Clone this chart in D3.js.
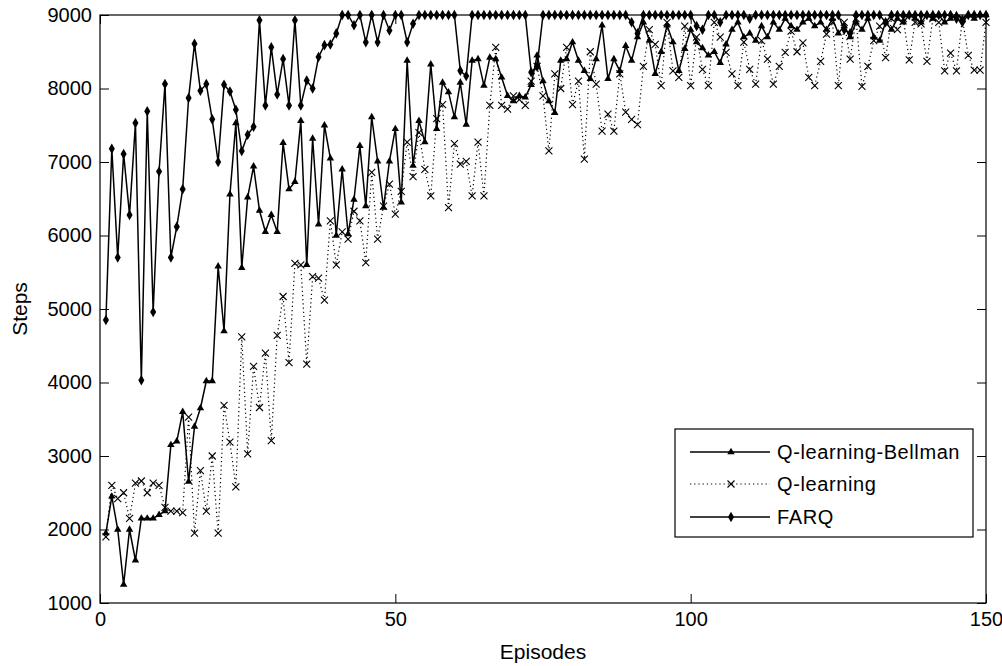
<!DOCTYPE html>
<html>
<head>
<meta charset="utf-8">
<script src="https://cdn.jsdelivr.net/npm/d3@7"></script>
<style>
  html, body { margin: 0; padding: 0; background: #fff; }
  svg { display: block; }
  text { font-family: "Liberation Sans", Arial, sans-serif; fill: #000; }
</style>
</head>
<body>
<svg id="chart" width="1002" height="666"></svg>
<script>
// ---------------- data ----------------
const seriesNames = ["Q-learning-Bellman", "Q-learning", "FARQ"];
const xTicks = [0, 50, 100, 150];
const yTicks = [1000, 2000, 3000, 4000, 5000, 6000, 7000, 8000, 9000];

// episodes 1..150
const bellman = [
  1950,2450,2000,1250,2000,1580,2150,2150,2150,2200,
  2250,3150,3200,3600,2650,3400,3650,4020,4020,5580,
  4700,6560,7530,5560,6520,6940,6340,6050,6280,6050,
  7260,6630,6730,7560,5600,7320,6150,7500,7050,6000,
  6900,6020,6490,7220,6400,7610,7010,6380,7010,7450,
  6450,8380,6950,7560,7270,8330,7450,8080,7950,7610,
  8080,7510,8380,8400,8040,8420,8400,8150,7900,7830,
  7900,7880,8050,8450,8100,7830,7670,8380,8400,8630,
  8380,8240,8130,8400,8860,8130,8400,8240,8580,8380,
  8700,8900,8650,8200,8500,8860,8630,8240,8540,8800,
  8630,8550,8450,8500,8350,8600,8800,8900,8700,8750,
  8650,8850,8700,8900,8800,8950,8850,8800,8900,8950,
  8850,8900,8800,8950,8750,8850,8700,8900,8800,8950,
  8700,8650,8900,8800,8950,8900,9000,8950,8900,9000,
  8950,9000,8900,8950,9000,8950,9000,8950,9000,9000
];
const qlearning = [
  1900,2600,2420,2500,2150,2630,2660,2500,2630,2600,
  2300,2250,2250,2230,3530,1950,2800,2250,3000,1950,
  3690,3190,2580,4620,3030,4220,3660,4400,3210,4640,
  5170,4270,5620,5600,4250,5440,5420,5120,6200,5600,
  6050,5950,6330,6200,5630,6860,5950,6400,6700,6290,
  6600,7270,6800,7400,6900,6540,7590,7780,6380,7250,
  6970,7010,6540,7270,6540,7770,8560,7770,7720,7900,
  7850,7770,8100,8300,7900,7150,8200,8000,8560,7780,
  8100,7040,8500,8060,7420,7650,7420,8200,7680,7580,
  7510,8300,8800,8600,8040,8900,8240,8150,8850,8040,
  8700,8260,8040,8900,8700,8490,8200,8040,8630,8260,
  8060,8650,8400,8060,8300,8490,8780,8500,8620,8150,
  8040,8370,8740,8900,8040,8900,8400,8950,8030,8300,
  8650,8850,8420,8950,8800,8950,8390,8900,8880,8370,
  8950,8900,8240,8480,8240,8950,8450,8250,8250,8900
];
const farq = [
  4850,7180,5700,7110,6280,7530,4030,7690,4960,6870,
  8060,5700,6120,6630,7870,8610,7970,8060,7580,7000,
  8050,7960,7710,7150,7370,7480,8930,7770,8560,7920,
  8400,7770,8930,7770,8110,8000,8430,8590,8600,8750,
  9000,9000,8860,9000,8630,9000,8630,9000,8790,9000,
  9000,8630,8880,9000,9000,9000,9000,9000,9000,9000,
  8240,8170,9000,9000,9000,9000,9000,9000,9000,9000,
  9000,9000,8220,8300,9000,9000,9000,9000,9000,9000,
  9000,9000,9000,9000,9000,9000,9000,9000,9000,8900,
  8750,9000,9000,9000,9000,9000,9000,9000,9000,9000,
  8850,8800,9000,9000,8900,9000,9000,9000,9000,8950,
  9000,9000,9000,9000,9000,9000,9000,9000,9000,9000,
  9000,9000,9000,9000,9000,8800,8750,9000,9000,9000,
  9000,9000,8900,9000,9000,9000,9000,9000,9000,9000,
  9000,9000,9000,9000,8950,8900,9000,9000,9000,9000
];

// ---------------- layout ----------------
const svg = d3.select("#chart");
const L = 100, R = 986, T = 15, B = 603;
const x = d3.scaleLinear().domain([0, 150]).range([L, R]);
const y = d3.scaleLinear().domain([1000, 9000]).range([B, T]);

svg.append("rect").attr("width", 1002).attr("height", 666).attr("fill", "#fff");

const toPts = arr => arr.map((v, i) => ({ ep: i + 1, v }));
const line = d3.line().x(d => x(d.ep)).y(d => y(d.v));

const plot = svg.append("g");

// Q-learning (dotted, x markers)
const qPts = toPts(qlearning);
plot.append("path").datum(qPts).attr("d", line)
  .attr("fill", "none").attr("stroke", "#000").attr("stroke-width", 1.2)
  .attr("stroke-dasharray", "1.2,3");
plot.append("g").selectAll("path").data(qPts).join("path")
  .attr("transform", d => `translate(${x(d.ep)},${y(d.v)})`)
  .attr("d", "M-3.5,-3.5L3.5,3.5M3.5,-3.5L-3.5,3.5")
  .attr("stroke", "#000").attr("stroke-width", 1.1).attr("fill", "none");

// Bellman (solid, triangles)
const bPts = toPts(bellman);
plot.append("path").datum(bPts).attr("d", line)
  .attr("fill", "none").attr("stroke", "#000").attr("stroke-width", 1.5);
const tri = d3.symbol().type(d3.symbolTriangle).size(24);
plot.append("g").selectAll("path").data(bPts).join("path")
  .attr("transform", d => `translate(${x(d.ep)},${y(d.v)})`)
  .attr("d", tri).attr("fill", "#000");

// FARQ (solid, diamonds)
const fPts = toPts(farq);
plot.append("path").datum(fPts).attr("d", line)
  .attr("fill", "none").attr("stroke", "#000").attr("stroke-width", 1.5);
const dia = d3.symbol().type(d3.symbolDiamond).size(32);
plot.append("g").selectAll("path").data(fPts).join("path")
  .attr("transform", d => `translate(${x(d.ep)},${y(d.v)})`)
  .attr("d", dia).attr("fill", "#000");

// ---------------- axes ----------------
const tickLen = 9;
const styleAxis = g => {
  g.select(".domain").remove();
  g.selectAll("line").attr("stroke", "#000").attr("stroke-width", 1);
  g.selectAll("text").style("font-size", "20px").attr("fill", "#000");
};
svg.append("g").attr("transform", `translate(0,${B})`)
  .call(d3.axisBottom(x).tickValues(xTicks).tickSizeInner(-tickLen).tickSizeOuter(0).tickPadding(9).tickFormat(d3.format("d")))
  .call(styleAxis);
svg.append("g").attr("transform", `translate(${L},0)`)
  .call(d3.axisLeft(y).tickValues(yTicks).tickSizeInner(-tickLen).tickSizeOuter(0).tickPadding(8).tickFormat(d3.format("d")))
  .call(styleAxis);
svg.append("g").attr("transform", `translate(0,${T})`)
  .call(d3.axisTop(x).tickValues(xTicks).tickSizeInner(-tickLen).tickSizeOuter(0).tickFormat(""))
  .call(styleAxis);
svg.append("g").attr("transform", `translate(${R},0)`)
  .call(d3.axisRight(y).tickValues(yTicks).tickSizeInner(-tickLen).tickSizeOuter(0).tickFormat(""))
  .call(styleAxis);

svg.append("rect").attr("x", L).attr("y", T).attr("width", R - L).attr("height", B - T)
  .attr("fill", "none").attr("stroke", "#000").attr("stroke-width", 1.2);

svg.append("text").attr("x", (L + R) / 2).attr("y", 659).attr("text-anchor", "middle")
  .style("font-size", "21px").text("Episodes");
svg.append("text").attr("transform", `translate(27,${(T + B) / 2}) rotate(-90)`)
  .attr("text-anchor", "middle").style("font-size", "21px").text("Steps");

// ---------------- legend ----------------
const lg = svg.append("g");
lg.append("rect").attr("x", 675).attr("y", 429).attr("width", 298).attr("height", 108)
  .attr("fill", "#fff").attr("stroke", "#000").attr("stroke-width", 1.2);
const rows = [452, 484, 517];
const lx0 = 690, lx1 = 770, lm = 731;
seriesNames.forEach((name, i) => {
  const yy = rows[i];
  const ln = lg.append("line").attr("x1", lx0).attr("x2", lx1).attr("y1", yy).attr("y2", yy)
    .attr("stroke", "#000").attr("stroke-width", 1.3);
  if (i === 1) ln.attr("stroke-dasharray", "1.2,3").attr("stroke-width", 1.2);
  if (i === 0) lg.append("path").attr("transform", `translate(${lm},${yy})`).attr("d", tri).attr("fill", "#000");
  if (i === 1) lg.append("path").attr("transform", `translate(${lm},${yy})`)
    .attr("d", "M-3.5,-3.5L3.5,3.5M3.5,-3.5L-3.5,3.5").attr("stroke", "#000").attr("stroke-width", 1.1);
  if (i === 2) lg.append("path").attr("transform", `translate(${lm},${yy})`).attr("d", dia).attr("fill", "#000");
  lg.append("text").attr("x", 777).attr("y", yy + 7).style("font-size", "20px")
    .style("letter-spacing", "0.6px").text(name);
});
</script>
</body>
</html>
